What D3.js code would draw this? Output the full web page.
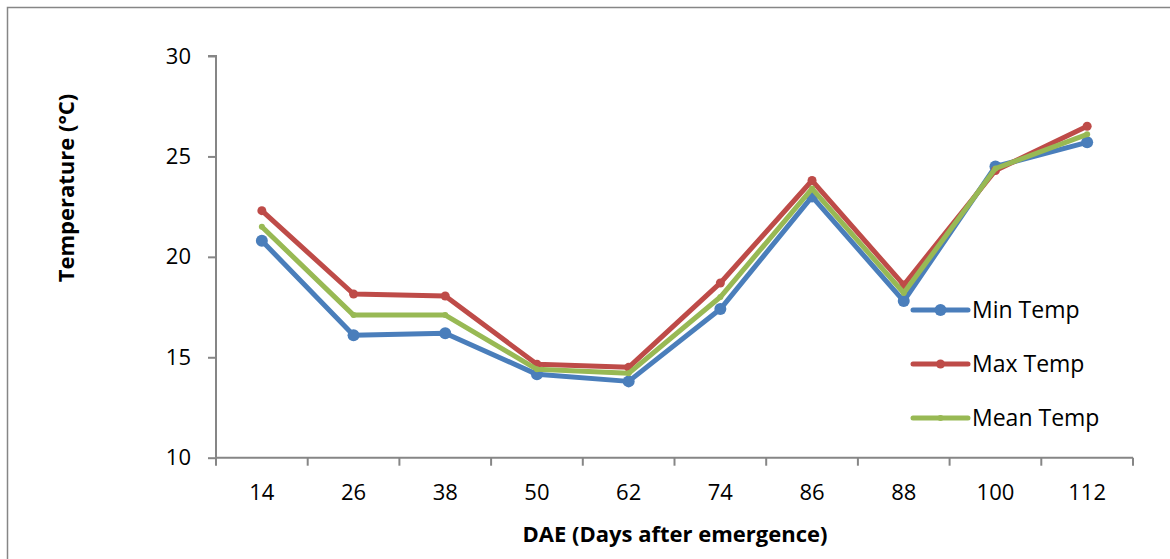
<html><head>
<script src="https://cdnjs.cloudflare.com/ajax/libs/d3/7.8.5/d3.min.js"></script>
<style>
  body { margin: 0; background: #fff; font-family: "Open Sans", Arial, sans-serif; }
  svg { display: block; }
</style>
</head>
<body>
<div id="chart"></div>
<script>
const days = ["14", "26", "38", "50", "62", "74", "86", "88", "100", "112"];
const minTemp = [20.8, 16.1, 16.2, 14.15, 13.8, 17.4, 23.0, 17.8, 24.5, 25.7];
const maxTemp = [22.3, 18.15, 18.05, 14.65, 14.5, 18.7, 23.8, 18.6, 24.3, 26.5];
const meanTemp = [21.5, 17.1, 17.1, 14.4, 14.2, 18.0, 23.4, 18.2, 24.4, 26.1];
const yTicks = [10, 15, 20, 25, 30];

const series = [
  { name: "Min Temp", values: minTemp, color: "#4a7ebb", r: 6 },
  { name: "Max Temp", values: maxTemp, color: "#be4b48", r: 4.5 },
  { name: "Mean Temp", values: meanTemp, color: "#98b954", r: 3 }
];

const W = 1170, H = 559;
const svg = d3.select("#chart").append("svg").attr("width", W).attr("height", H);

// outer frame
svg.append("rect").attr("x", 7.5).attr("y", 7.5).attr("width", W + 10).attr("height", H + 10)
  .attr("fill", "none").attr("stroke", "#868686").attr("stroke-width", 1.5);

const x = d3.scaleBand().domain(days).range([216, 1133]);
const y = d3.scaleLinear().domain([10, 30]).range([457.7, 56]);

const axisColor = "#868686";

// y axis
const yAxis = svg.append("g").attr("transform", "translate(216,0)")
  .call(d3.axisLeft(y).tickValues(yTicks).tickSize(8).tickPadding(17));
yAxis.select(".domain").attr("stroke", axisColor).attr("stroke-width", 2).attr("d", "M-8,56H0V457.7");
yAxis.selectAll(".tick line").attr("stroke", axisColor).attr("stroke-width", 2);
yAxis.selectAll("text").attr("font-size", 22).attr("fill", "#000").attr("font-family", "Open Sans");

// x axis: ticks on band boundaries
const xAxis = svg.append("g").attr("transform", "translate(0,457.7)")
  .call(d3.axisBottom(x).tickSize(0).tickPadding(27));
xAxis.select(".domain").attr("stroke", axisColor).attr("stroke-width", 2).attr("d", "M216,0H1133");
xAxis.selectAll("text").attr("font-size", 22).attr("fill", "#000").attr("font-family", "Open Sans");
const bounds = days.map(d => x(d)).concat([x(days[days.length - 1]) + x.bandwidth()]);
xAxis.selectAll(".bt").data(bounds).enter().append("line")
  .attr("x1", d => d).attr("x2", d => d).attr("y1", 0).attr("y2", 8)
  .attr("stroke", axisColor).attr("stroke-width", 2);

// axis titles
svg.append("text").attr("x", 675).attr("y", 542).attr("text-anchor", "middle")
  .attr("font-size", 22).attr("font-weight", "bold").text("DAE (Days after emergence)");
svg.append("text").attr("transform", "translate(74,188) rotate(-90)").attr("text-anchor", "middle")
  .attr("font-size", 22).attr("font-weight", "bold").text("Temperature (°C)");

const cx = d => x(d) + x.bandwidth() / 2;
const line = d3.line().x((v, i) => cx(days[i])).y(v => y(v));

series.forEach(s => {
  const g = svg.append("g");
  g.append("path").attr("d", line(s.values)).attr("fill", "none")
    .attr("stroke", s.color).attr("stroke-width", 5).attr("stroke-linejoin", "round");
  g.selectAll("circle").data(s.values).enter().append("circle")
    .attr("cx", (v, i) => cx(days[i])).attr("cy", v => y(v)).attr("r", s.r).attr("fill", s.color);
});

// legend
const legendY = [310, 364, 418];
series.forEach((s, i) => {
  const g = svg.append("g").attr("transform", `translate(913,${legendY[i]})`);
  g.append("line").attr("x1", 0).attr("x2", 55).attr("stroke", s.color).attr("stroke-width", 5)
    .attr("stroke-linecap", "round");
  g.append("circle").attr("cx", 27.5).attr("r", s.r).attr("fill", s.color);
  g.append("text").attr("x", 59).attr("y", 8).attr("font-size", 23).attr("fill", "#000").text(s.name);
});
</script>
</body></html>
